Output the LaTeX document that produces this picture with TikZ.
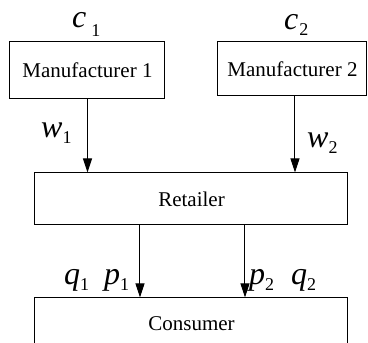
\documentclass[tikz,border=0pt]{standalone}
\usepackage{fontspec}
\setmainfont{Liberation Serif}
\usetikzlibrary{arrows.meta}
\newcommand\lbl[4]{{\fontsize{32}{36}\selectfont\itshape #1}\kern#4\raisebox{#3}{\fontsize{18}{20}\selectfont #2}}
\begin{document}
\begin{tikzpicture}[x=1pt,y=1pt,
  box/.style={draw,line width=1pt,inner sep=0pt,font=\fontsize{21}{25}\selectfont},
  arr/.style={line width=1pt,-{Triangle[length=14pt,width=9pt]}},
  lab/.style={inner sep=0pt,anchor=base west}]
\useasboundingbox (0,0) rectangle (368,343);
\clip (0,0) rectangle (368,343);
\node[box,minimum width=155,minimum height=57] (m1) at (87.5,272.5) {Manufacturer 1};
\node[box,minimum width=149,minimum height=54] (m2) at (292.5,274) {Manufacturer 2};
\node[box,minimum width=313,minimum height=52] (ret) at (191.5,144) {Retailer};
\node[box,minimum width=313,minimum height=52] (con) at (191.5,19) {Consumer};
\coordinate (a2) at ([xshift=2.5]m2.south);
\coordinate (r1) at ([xshift=-51.5]ret.south);
\coordinate (r2) at ([xshift=53.5]ret.south);
\draw[arr] (m1.south) -- (m1.south |- ret.north);
\draw[arr] (a2) -- (a2 |- ret.north);
\draw[arr] (r1) -- (r1 |- con.north);
\draw[arr] (r2) -- (r2 |- con.north);
\node[lab] (c1) at (72,315) {\lbl{c}{1}{-9pt}{5pt}};
\node[lab] (c2) at (284,313) {\lbl{c}{2}{-6pt}{1pt}};
\node[lab] (w1) at (41,205) {\lbl{w}{1}{-6pt}{0pt}};
\node[lab] (w2) at (307,195) {\lbl{w}{2}{-6pt}{0pt}};
\node[lab] (q1) at (64,58) {\lbl{q}{1}{-6pt}{0pt}};
\node[lab] (p1) at (104,58) {\lbl{p}{1}{-6pt}{0pt}};
\node[lab] (p2) at (249,58) {\lbl{p}{2}{-6pt}{0pt}};
\node[lab] (q2) at (291,58) {\lbl{q}{2}{-6pt}{0pt}};
\end{tikzpicture}
\end{document}
